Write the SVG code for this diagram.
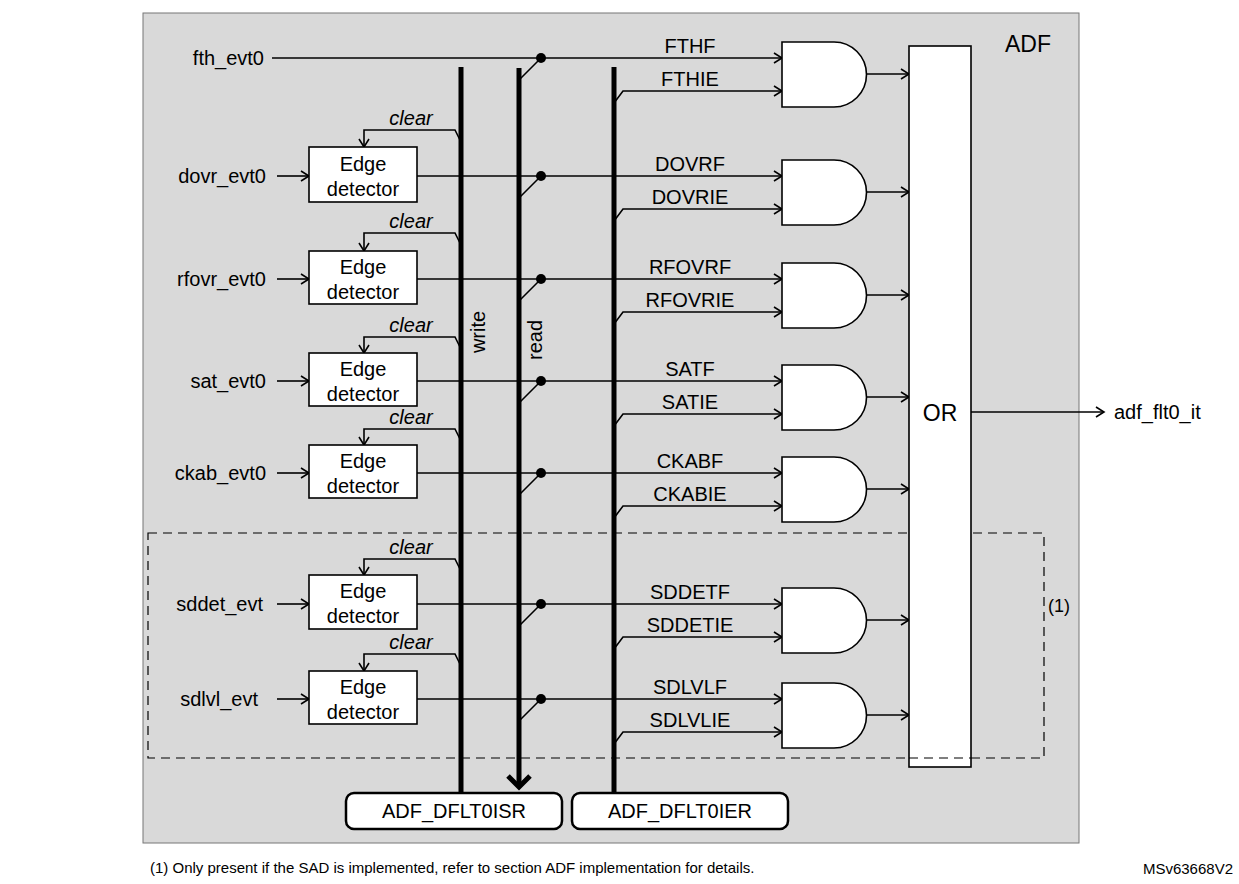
<svg xmlns="http://www.w3.org/2000/svg" width="1239" height="884" viewBox="0 0 1239 884">
<defs>
<marker id="ar" markerUnits="userSpaceOnUse" markerWidth="12" markerHeight="12" refX="9" refY="6" orient="auto"><path d="M1,1 L9,6 L1,11" fill="none" stroke="#000" stroke-width="1.6"/></marker>
<marker id="arb" markerUnits="userSpaceOnUse" markerWidth="24" markerHeight="26" refX="14" refY="13" orient="auto"><path d="M3,2 L14,13 L3,24" fill="none" stroke="#000" stroke-width="5"/></marker>
</defs>
<style>
text{font-family:"Liberation Sans",Arial,sans-serif;fill:#000}
.l{font-size:20px}
.c{font-size:20px;text-anchor:middle}
.i{font-size:20px;font-style:italic;text-anchor:middle}
.w{stroke:#000;stroke-width:1.6;fill:none}
.bus{stroke:#000;stroke-width:5;fill:none}
.box{fill:#fff;stroke:#000;stroke-width:1.6}
.gate{fill:#fff;stroke:#000;stroke-width:1.6}
</style>
<rect x="0" y="0" width="1239" height="884" fill="#fff"/>
<rect x="143" y="13" width="936" height="830" fill="#d9d9d9" stroke="#777" stroke-width="1"/>
<text x="1005" y="52" style="font-size:23px">ADF</text>
<rect x="148" y="533" width="896" height="225" fill="none" stroke="#000" stroke-width="1.2" stroke-dasharray="9,6"/>
<text x="1048" y="612" style="font-size:18px">(1)</text>

<g id="connectors">
<path class="bus" d="M461,67 V795"/>
<path class="bus" d="M519,68 V787" marker-end="url(#arb)"/>
<path class="bus" d="M614,67 V795"/>
<text transform="translate(485,332) rotate(-90)" class="c">write</text>
<text transform="translate(542,340) rotate(-90)" class="c">read</text>
<path class="w" d="M272,58 H782" marker-end="url(#ar)"/>
<circle cx="541" cy="58" r="5"/><path class="w" d="M541,58 L519,80"/>
<path class="w" d="M614,103 L623,91 H782" marker-end="url(#ar)"/>
<path class="w" d="M866,74 H909" marker-end="url(#ar)"/>
<g id="r1">
<path class="w" d="M277,176 H309" marker-end="url(#ar)"/>
<path class="w" d="M461,142 L455,130 H364 V147" marker-end="url(#ar)"/>
<path class="w" d="M417,176 H782" marker-end="url(#ar)"/>
<circle cx="541" cy="176" r="5"/><path class="w" d="M541,176 L519,198"/>
<path class="w" d="M614,221 L623,209 H782" marker-end="url(#ar)"/>
<path class="w" d="M866,192 H909" marker-end="url(#ar)"/>
</g>
<g id="r2">
<path class="w" d="M277,279 H309" marker-end="url(#ar)"/>
<path class="w" d="M461,245 L455,233 H364 V251" marker-end="url(#ar)"/>
<path class="w" d="M417,279 H782" marker-end="url(#ar)"/>
<circle cx="541" cy="279" r="5"/><path class="w" d="M541,279 L519,301"/>
<path class="w" d="M614,324 L623,312 H782" marker-end="url(#ar)"/>
<path class="w" d="M866,295 H909" marker-end="url(#ar)"/>
</g>
<g id="r3">
<path class="w" d="M277,381 H309" marker-end="url(#ar)"/>
<path class="w" d="M461,349 L455,337 H364 V353" marker-end="url(#ar)"/>
<path class="w" d="M417,381 H782" marker-end="url(#ar)"/>
<circle cx="541" cy="381" r="5"/><path class="w" d="M541,381 L519,403"/>
<path class="w" d="M614,426 L623,414 H782" marker-end="url(#ar)"/>
<path class="w" d="M866,397 H909" marker-end="url(#ar)"/>
</g>
<g id="r4">
<path class="w" d="M277,473 H309" marker-end="url(#ar)"/>
<path class="w" d="M461,441 L455,429 H364 V445" marker-end="url(#ar)"/>
<path class="w" d="M417,473 H782" marker-end="url(#ar)"/>
<circle cx="541" cy="473" r="5"/><path class="w" d="M541,473 L519,495"/>
<path class="w" d="M614,518 L623,506 H782" marker-end="url(#ar)"/>
<path class="w" d="M866,489 H909" marker-end="url(#ar)"/>
</g>
<g id="r5">
<path class="w" d="M277,604 H309" marker-end="url(#ar)"/>
<path class="w" d="M461,571 L455,559 H364 V575" marker-end="url(#ar)"/>
<path class="w" d="M417,604 H782" marker-end="url(#ar)"/>
<circle cx="541" cy="604" r="5"/><path class="w" d="M541,604 L519,626"/>
<path class="w" d="M614,649 L623,637 H782" marker-end="url(#ar)"/>
<path class="w" d="M866,620 H909" marker-end="url(#ar)"/>
</g>
<g id="r6">
<path class="w" d="M277,699 H309" marker-end="url(#ar)"/>
<path class="w" d="M461,666 L455,654 H364 V671" marker-end="url(#ar)"/>
<path class="w" d="M417,699 H782" marker-end="url(#ar)"/>
<circle cx="541" cy="699" r="5"/><path class="w" d="M541,699 L519,721"/>
<path class="w" d="M614,744 L623,732 H782" marker-end="url(#ar)"/>
<path class="w" d="M866,715 H909" marker-end="url(#ar)"/>
</g>
<path class="w" d="M971,412 H1104" marker-end="url(#ar)"/>
</g>

<g id="labels">
<text class="l" x="264" y="65" text-anchor="end">fth_evt0</text>
<text class="l" x="266" y="183" text-anchor="end">dovr_evt0</text>
<text class="l" x="266" y="286" text-anchor="end">rfovr_evt0</text>
<text class="l" x="266" y="388" text-anchor="end">sat_evt0</text>
<text class="l" x="266" y="480" text-anchor="end">ckab_evt0</text>
<text class="l" x="263" y="611" text-anchor="end">sddet_evt</text>
<text class="l" x="258" y="706" text-anchor="end">sdlvl_evt</text>
<text class="i" x="411" y="125">clear</text>
<text class="i" x="411" y="228">clear</text>
<text class="i" x="411" y="332">clear</text>
<text class="i" x="411" y="424">clear</text>
<text class="i" x="411" y="554">clear</text>
<text class="i" x="411" y="649">clear</text>
<text class="c" x="690" y="53">FTHF</text><text class="c" x="690" y="86">FTHIE</text>
<text class="c" x="690" y="171">DOVRF</text><text class="c" x="690" y="204">DOVRIE</text>
<text class="c" x="690" y="274">RFOVRF</text><text class="c" x="690" y="307">RFOVRIE</text>
<text class="c" x="690" y="376">SATF</text><text class="c" x="690" y="409">SATIE</text>
<text class="c" x="690" y="468">CKABF</text><text class="c" x="690" y="501">CKABIE</text>
<text class="c" x="690" y="599">SDDETF</text><text class="c" x="690" y="632">SDDETIE</text>
<text class="c" x="690" y="694">SDLVLF</text><text class="c" x="690" y="727">SDLVLIE</text>
<text class="l" x="1114" y="419">adf_flt0_it</text>
</g>

<g id="ed1"><rect class="box" x="309" y="147" width="108" height="55"/><text class="c" x="363" y="171">Edge</text><text class="c" x="363" y="196">detector</text></g>
<g id="ed2"><rect class="box" x="309" y="251" width="108" height="53"/><text class="c" x="363" y="274">Edge</text><text class="c" x="363" y="299">detector</text></g>
<g id="ed3"><rect class="box" x="309" y="353" width="108" height="53"/><text class="c" x="363" y="376">Edge</text><text class="c" x="363" y="401">detector</text></g>
<g id="ed4"><rect class="box" x="309" y="445" width="108" height="53"/><text class="c" x="363" y="468">Edge</text><text class="c" x="363" y="493">detector</text></g>
<g id="ed5"><rect class="box" x="309" y="575" width="108" height="54"/><text class="c" x="363" y="598">Edge</text><text class="c" x="363" y="623">detector</text></g>
<g id="ed6"><rect class="box" x="309" y="671" width="108" height="53"/><text class="c" x="363" y="694">Edge</text><text class="c" x="363" y="719">detector</text></g>

<g id="g0"><path class="gate" d="M782,42 H834 A32.5,32.5 0 0 1 834,107 H782 Z"/></g>
<g id="g1"><path class="gate" d="M782,160 H834 A32.5,32.5 0 0 1 834,225 H782 Z"/></g>
<g id="g2"><path class="gate" d="M782,263 H834 A32.5,32.5 0 0 1 834,328 H782 Z"/></g>
<g id="g3"><path class="gate" d="M782,365 H834 A32.5,32.5 0 0 1 834,430 H782 Z"/></g>
<g id="g4"><path class="gate" d="M782,457 H834 A32.5,32.5 0 0 1 834,522 H782 Z"/></g>
<g id="g5"><path class="gate" d="M782,588 H834 A32.5,32.5 0 0 1 834,653 H782 Z"/></g>
<g id="g6"><path class="gate" d="M782,683 H834 A32.5,32.5 0 0 1 834,748 H782 Z"/></g>

<g id="or"><rect class="box" x="909" y="46" width="62" height="721"/><text x="940" y="421" style="font-size:23px;text-anchor:middle">OR</text></g>
<path d="M909,758 H971" stroke="#000" stroke-width="1.2" stroke-dasharray="9,6"/>

<g id="isr"><rect x="346" y="793" width="216" height="36" rx="8" fill="#fff" stroke="#000" stroke-width="2.5"/><text class="c" x="454" y="818">ADF_DFLT0ISR</text></g>
<g id="ier"><rect x="572" y="793" width="216" height="36" rx="8" fill="#fff" stroke="#000" stroke-width="2.5"/><text class="c" x="680" y="818">ADF_DFLT0IER</text></g>

<text x="150" y="873" style="font-size:15px">(1) Only present if the SAD is implemented, refer to section ADF implementation for details.</text>
<text x="1233" y="874" style="font-size:15px;text-anchor:end">MSv63668V2</text>
</svg>
